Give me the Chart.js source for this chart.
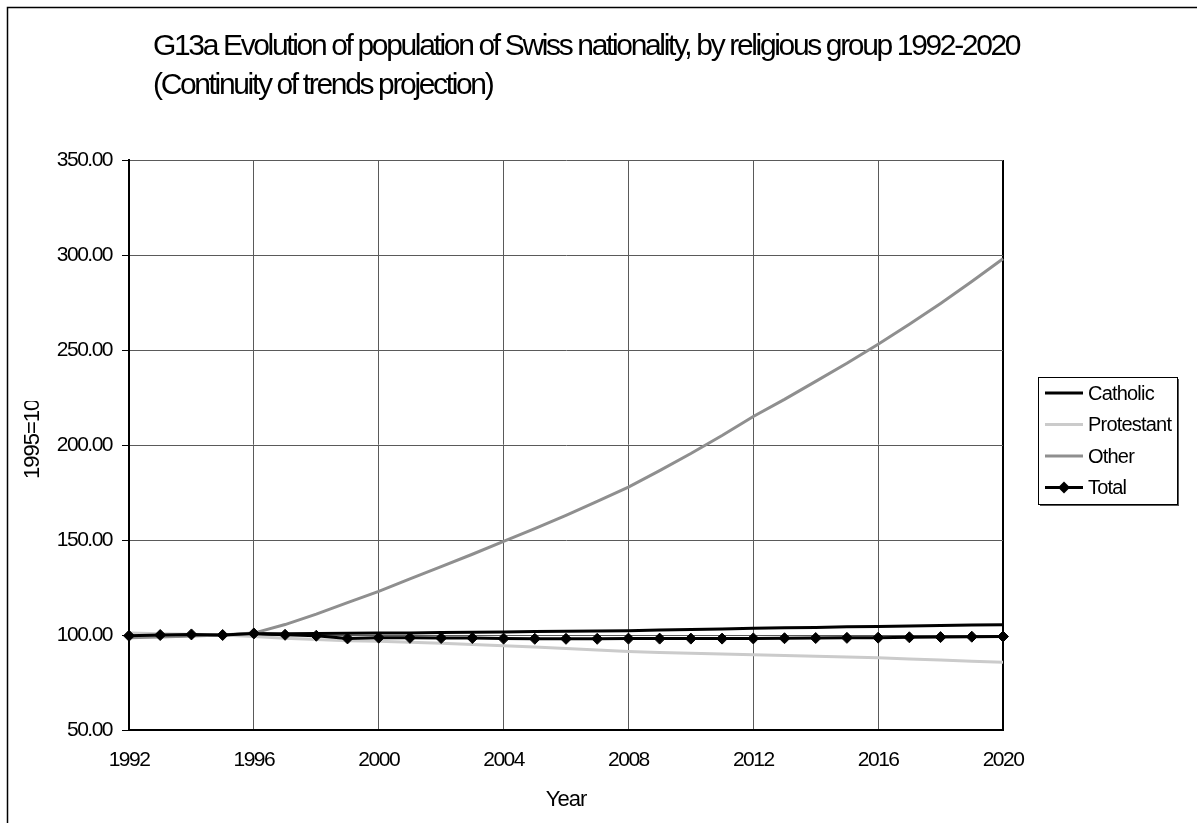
<!DOCTYPE html>
<html>
<head>
<meta charset="utf-8">
<script src="https://cdn.jsdelivr.net/npm/chart.js@4/dist/chart.umd.min.js"></script>
<style>
  html, body { margin: 0; padding: 0; background: #ffffff; }
  #wrap { width: 1197px; height: 823px; }
</style>
</head>
<body>
<div id="wrap"><canvas id="c" width="1197" height="823"></canvas></div>
<script>
// Index of the Swiss population, 1995 = 100
const years = ['1992','1993','1994','1995','1996','1997','1998','1999','2000','2001',
  '2002','2003','2004','2005','2006','2007','2008','2009','2010','2011',
  '2012','2013','2014','2015','2016','2017','2018','2019','2020'];

const catholic = [99.2, 99.4, 99.7, 100.0, 100.6, 100.7, 100.8, 100.9, 101.0, 101.1,
  101.3, 101.4, 101.6, 101.8, 102.0, 102.1, 102.3, 102.6, 102.9, 103.2,
  103.5, 103.8, 104.0, 104.3, 104.5, 104.7, 105.0, 105.2, 105.4];

const protestant = [101.0, 100.7, 100.4, 100.0, 99.2, 98.3, 97.6, 97.0, 96.7, 96.2,
  95.6, 95.0, 94.4, 93.7, 92.9, 92.1, 91.3, 90.8, 90.4, 90.0,
  89.6, 89.2, 88.8, 88.4, 88.0, 87.4, 86.8, 86.2, 85.6];

const other = [98.5, 99.0, 99.5, 100.0, 101.0, 105.5, 111.0, 117.0, 123.0, 129.5,
  136.0, 142.5, 149.3, 156.0, 163.0, 170.3, 177.8, 186.5, 195.5, 205.0,
  215.0, 224.0, 233.5, 243.0, 253.0, 263.5, 274.5, 286.0, 298.0];

const total = [99.6, 100.0, 100.3, 100.0, 100.8, 100.1, 99.6, 98.2, 98.6, 98.5,
  98.4, 98.4, 98.1, 98.0, 98.0, 98.0, 98.1, 98.1, 98.1, 98.1,
  98.2, 98.3, 98.4, 98.5, 98.6, 98.8, 98.9, 99.1, 99.2];

const seriesNames = ['Catholic', 'Protestant', 'Other', 'Total'];
const yAxisTicks = [50, 100, 150, 200, 250, 300, 350];
const titleLines = [
  'G13a Evolution of population of Swiss nationality, by religious group 1992-2020',
  '(Continuity of trends projection)'
];
const xAxisTitle = 'Year';
const yAxisTitle = '1995=100';

const FONT = '"Liberation Sans", Arial, sans-serif';
const LABEL_STEP = 4;

// Frame, titles, clipped y-axis caption and the boxed legend
const decorations = {
  id: 'decorations',
  beforeLayout(chart) { chart.ctx.letterSpacing = '-1.5px'; },
  beforeDraw(chart) {
    const ctx = chart.ctx;
    ctx.save();
    ctx.fillStyle = '#ffffff';
    ctx.fillRect(0, 0, chart.width, chart.height);
    ctx.restore();
    ctx.letterSpacing = '-1.5px';
  },
  afterDraw(chart) {
    const ctx = chart.ctx;
    const area = chart.chartArea;
    ctx.save();

    // outer frame
    ctx.strokeStyle = '#000000';
    ctx.lineWidth = 1.5;
    ctx.strokeRect(7.5, 7.5, chart.width + 20, chart.height + 20);

    // main title
    ctx.fillStyle = '#000000';
    ctx.font = '30px ' + FONT;
    ctx.letterSpacing = '-2.35px';
    ctx.textAlign = 'left';
    ctx.textBaseline = 'alphabetic';
    ctx.fillText(titleLines[0], 153, 55);
    ctx.fillText(titleLines[1], 153, 94);

    // x axis caption
    ctx.font = '22px ' + FONT;
    ctx.letterSpacing = '-1px';
    ctx.textAlign = 'center';
    ctx.textBaseline = 'middle';
    ctx.fillText(xAxisTitle, (area.left + area.right) / 2, 800);

    // y axis caption, cut off at the top of its box
    ctx.save();
    ctx.beginPath();
    ctx.rect(15, 401, 40, 120);
    ctx.clip();
    ctx.translate(33, 479);
    ctx.rotate(-Math.PI / 2);
    ctx.textAlign = 'left';
    ctx.textBaseline = 'middle';
    ctx.fillText(yAxisTitle, 0, 0);
    ctx.restore();

    // legend box with shadow
    const lx = 1038, ly = 377, lw = 139, lh = 127;
    ctx.fillStyle = '#555555';
    ctx.fillRect(lx + 2, ly + 2, lw, lh);
    ctx.fillStyle = '#ffffff';
    ctx.fillRect(lx, ly, lw, lh);
    ctx.strokeStyle = '#000000';
    ctx.lineWidth = 1;
    ctx.strokeRect(lx + 0.5, ly + 0.5, lw, lh);

    ctx.textAlign = 'left';
    ctx.textBaseline = 'middle';
    ctx.font = '20px ' + FONT;
    ctx.letterSpacing = '-0.8px';
    chart.data.datasets.forEach((ds, i) => {
      const y = 393 + i * 31.5;
      ctx.strokeStyle = ds.borderColor;
      ctx.lineWidth = 3;
      ctx.beginPath();
      ctx.moveTo(1045, y);
      ctx.lineTo(1083, y);
      ctx.stroke();
      if (ds.pointRadius > 0) {
        ctx.fillStyle = ds.pointBackgroundColor;
        ctx.beginPath();
        ctx.moveTo(1064, y - 6);
        ctx.lineTo(1070, y);
        ctx.lineTo(1064, y + 6);
        ctx.lineTo(1058, y);
        ctx.closePath();
        ctx.fill();
      }
      ctx.fillStyle = '#000000';
      ctx.fillText(ds.label, 1088, y + 1);
    });

    ctx.restore();
  }
};

const ctx = document.getElementById('c').getContext('2d');
new Chart(ctx, {
  type: 'line',
  data: {
    labels: years,
    datasets: [
      { label: seriesNames[0], data: catholic, borderColor: '#000000', borderWidth: 3,
        pointRadius: 0, order: 3 },
      { label: seriesNames[1], data: protestant, borderColor: '#cbcbcb', borderWidth: 3,
        pointRadius: 0, order: 2 },
      { label: seriesNames[2], data: other, borderColor: '#8f8f8f', borderWidth: 3,
        pointRadius: 0, order: 1 },
      { label: seriesNames[3], data: total, borderColor: '#000000', borderWidth: 3,
        pointStyle: 'rectRot', pointRadius: 5.5, pointBackgroundColor: '#000000',
        pointBorderColor: '#000000', pointBorderWidth: 1, order: 0 }
    ]
  },
  options: {
    responsive: false,
    animation: false,
    devicePixelRatio: 1,
    layout: { padding: { top: 160, right: 194, left: 0, bottom: 0 } },
    plugins: {
      legend: { display: false },
      title: { display: false },
      tooltip: { enabled: false }
    },
    elements: { line: { tension: 0 } },
    scales: {
      x: {
        type: 'category',
        offset: false,
        afterFit(scale) { scale.height = 93; },
        grid: {
          drawTicks: false,
          color: (c) => {
            const i = c.index;
            if (i === years.length - 1) return '#000000';
            return (i % LABEL_STEP === 0) ? '#5a5a5a' : 'rgba(0,0,0,0)';
          },
          lineWidth: (c) => (c.index === years.length - 1 ? 2 : 1)
        },
        border: { color: '#000000', width: 2 },
        ticks: {
          autoSkip: false,
          maxRotation: 0,
          padding: 18,
          color: '#000000',
          font: { family: FONT, size: 21 },
          callback: (v, i) => (i % LABEL_STEP === 0 ? years[i] : '')
        }
      },
      y: {
        min: yAxisTicks[0],
        max: yAxisTicks[yAxisTicks.length - 1],
        afterFit(scale) { scale.width = 129; },
        afterBuildTicks(scale) { scale.ticks = yAxisTicks.map(v => ({ value: v })); },
        grid: {
          color: '#5a5a5a',
          lineWidth: 1,
          tickLength: 7,
          tickColor: '#000000'
        },
        border: { color: '#000000', width: 2 },
        ticks: {
          padding: 10,
          color: '#000000',
          font: { family: FONT, size: 21 },
          callback: (v) => Number(v).toFixed(2)
        }
      }
    }
  },
  plugins: [decorations]
});
</script>
</body>
</html>
